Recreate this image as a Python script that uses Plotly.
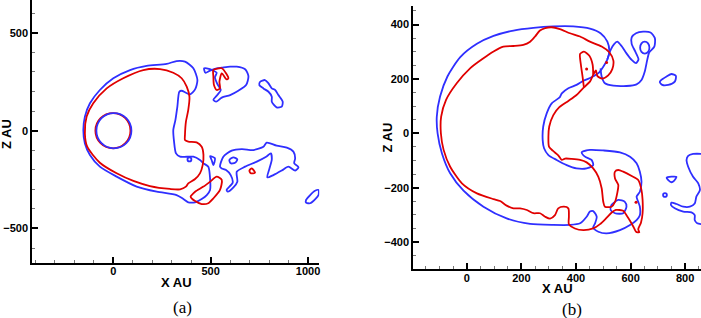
import plotly.graph_objects as go

BLUE = "#2f2fff"
RED = "#e00000"

# ---------------- Panel (a) data (AU) ----------------
A_BLUE_MAIN_X = [329, 339, 351, 373, 394, 420, 432, 411, 368, 325, 274, 171, 86, 0, -69, -120, -146, -154, -146, -120, -69, 17, 120, 223, 325, 360, 385, 420, 454, 480, 497, 497, 488, 463, 445, 411, 343, 322, 312, 308, 319, 329]
A_BLUE_MAIN_Z = [123, 199, 204, 194, 186, 211, 259, 319, 353, 356, 341, 331, 310, 268, 208, 140, 72, 3, -65, -124, -184, -235, -286, -312, -329, -349, -366, -366, -349, -329, -303, -244, -184, -167, -150, -133, -133, -116, -56, 3, 55, 123]

A_RED_MAIN_X = [368, 373, 385, 391, 377, 351, 308, 240, 154, 51, -34, -103, -137, -146, -134, -69, 17, 103, 188, 291, 343, 373, 385, 420, 445, 459, 463, 454, 428, 385, 368, 368]
A_RED_MAIN_Z = [-22, 46, 106, 174, 225, 268, 296, 315, 310, 268, 216, 140, 72, -14, -82, -164, -218, -257, -283, -298, -300, -286, -269, -247, -218, -176, -124, -82, -60, -56, -48, -22]

A_RED_LOOP_X = [403, 420, 463, 497, 531, 557, 548, 514, 488, 454, 420, 397, 403]
A_RED_LOOP_Z = [-329, -312, -286, -261, -235, -252, -303, -346, -371, -375, -360, -337, -329]

A_BLUE_HOOK_X = [497, 522, 514, 505, 497]
A_BLUE_HOOK_Z = [-130, -141, -176, -150, -130]

A_BLUE_CLOUD_X = [548, 565, 608, 660, 719, 771, 788, 839, 891, 925, 934, 929, 951, 934, 899, 865, 822, 791, 802, 814, 809, 785, 737, 677, 634, 637, 617, 588, 582, 613, 603, 579, 557, 548]
A_BLUE_CLOUD_Z = [-184, -133, -102, -94, -99, -82, -61, -77, -87, -107, -141, -167, -187, -204, -184, -204, -227, -239, -193, -147, -116, -133, -158, -184, -210, -261, -290, -312, -303, -266, -227, -201, -193, -184]

A_BLUE_EYE_X = [596, 617, 637, 625, 603, 596]
A_BLUE_EYE_Z = [-150, -136, -147, -164, -167, -150]

A_RED_BIT_X = [699, 711, 728, 706, 699]
A_RED_BIT_Z = [-204, -193, -215, -218, -204]

A_BLUE_TOP_X = [466, 473, 497, 531, 557, 600, 634, 677, 694, 682, 642, 600, 557, 528, 514, 534, 552, 534, 522, 531, 514, 480, 466]
A_BLUE_TOP_Z = [319, 296, 307, 319, 322, 327, 327, 314, 279, 233, 204, 182, 169, 148, 157, 182, 208, 239, 273, 296, 307, 319, 319]

A_RED_TOP_X = [514, 557, 579, 591, 582, 557, 545, 548, 531, 517, 514, 514]
A_RED_TOP_Z = [310, 319, 293, 268, 262, 293, 250, 216, 208, 233, 276, 310]

A_BLUE_FAR_X = [754, 779, 797, 814, 831, 848, 870, 865, 839, 814, 814, 797, 771, 750, 754]
A_BLUE_FAR_Z = [250, 259, 242, 216, 208, 182, 148, 123, 119, 148, 174, 199, 216, 233, 250]

A_BLUE_TAIL_X = [990, 1011, 1036, 1054, 1054, 1036, 1011, 990, 990]
A_BLUE_TAIL_Z = [-354, -329, -307, -303, -329, -351, -371, -368, -354]

# circles: (center x, center z, radius)
A_CIRCLES = [(-2, 0, 90, RED), (3, 0, 90, BLUE), (391, -147, 10, BLUE)]

# ---------------- Panel (b) data (AU) ----------------
B_BLUE_MAIN_X = [522, 515, 490, 451, 390, 317, 244, 171, 98, 37, -24, -71, -98, -110, -107, -91, -61, -12, 61, 146, 232, 317, 378, 415, 439, 451, 463, 476, 470, 463, 482, 512, 561, 598, 622, 634, 634, 628, 622, 634, 640, 634, 622, 598, 561, 500, 451, 421, 433, 457, 463, 439, 402, 366, 329, 299, 283, 278, 280, 293, 311, 341, 348, 372, 402, 427, 457, 482, 500, 515, 522]
B_BLUE_MAIN_Z = [301, 337, 368, 385, 393, 393, 388, 378, 358, 329, 280, 209, 135, 61, 0, -74, -147, -211, -270, -313, -333, -337, -337, -331, -307, -288, -286, -307, -331, -347, -362, -368, -356, -337, -319, -301, -270, -252, -233, -215, -178, -141, -110, -86, -70, -63, -61, -70, -86, -98, -117, -129, -129, -117, -98, -80, -55, -25, 25, 74, 110, 133, 147, 166, 178, 193, 206, 221, 245, 272, 301]

B_BLUE_TAIL_X = [515, 527, 539, 551, 567, 585, 604, 620, 629, 617, 604, 604, 620, 646, 673, 689, 687, 668, 661, 652, 640, 622, 585, 537, 506, 494, 490]
B_BLUE_TAIL_Z = [272, 307, 327, 337, 321, 294, 270, 258, 272, 301, 329, 353, 368, 374, 371, 350, 319, 297, 270, 227, 196, 180, 174, 175, 184, 209, 239]

B_BLUE_BLOB_X = [710, 732, 750, 766, 762, 738, 716, 707, 710]
B_BLUE_BLOB_Z = [194, 209, 218, 211, 190, 178, 178, 188, 194]

B_BLUE_TRI_X = [732, 768, 759, 750, 738, 732]
B_BLUE_TRI_Z = [-163, -160, -175, -180, -172, -163]

B_BLUE_LOOP_X = [530, 555, 579, 585, 573, 543, 527, 530]
B_BLUE_LOOP_Z = [-264, -245, -252, -270, -294, -294, -282, -264]

B_BLUE_RIGHT_X = [870, 829, 811, 805, 811, 829, 848, 854, 841, 835, 817, 793, 768, 750, 748, 762, 793, 823, 835, 835, 844, 870]
B_BLUE_RIGHT_Z = [-76, -76, -83, -98, -123, -160, -184, -209, -233, -258, -270, -270, -260, -255, -264, -276, -288, -291, -301, -319, -331, -335]

B_RED_MAIN_X = [299, 302, 317, 339, 372, 402, 429, 451, 463, 473, 478, 496, 518, 533, 537, 522, 494, 451, 415, 378, 341, 311, 287, 268, 250, 232, 207, 171, 134, 98, 61, 12, -37, -76, -94, -95, -85, -61, -18, 37, 98, 122, 146, 171, 195, 220, 244, 268, 287, 305, 323, 335, 356, 372, 374, 374, 396, 427, 463, 488, 510, 530, 546, 573, 585, 600, 612, 620, 632, 628, 638, 644, 644, 640, 628, 604, 573, 555, 543, 543, 555, 551, 543, 530, 506, 500, 494, 482, 463, 439, 415, 384, 360, 348, 335, 315, 301, 299]
B_RED_MAIN_Z = [-12, 25, 67, 96, 119, 141, 169, 190, 215, 231, 211, 201, 213, 236, 267, 298, 319, 337, 356, 368, 383, 390, 387, 378, 356, 337, 325, 321, 319, 301, 276, 239, 184, 123, 61, 0, -61, -123, -184, -221, -242, -249, -266, -276, -276, -282, -294, -294, -307, -314, -301, -276, -270, -276, -307, -334, -350, -356, -350, -334, -313, -292, -282, -285, -301, -325, -347, -362, -364, -353, -329, -294, -245, -209, -172, -157, -141, -135, -141, -166, -190, -221, -252, -270, -270, -252, -202, -160, -129, -107, -98, -94, -93, -98, -81, -64, -49, -12]

B_RED_FINGER_X = [429, 424, 418, 415, 429, 449, 461, 463]
B_RED_FINGER_Z = [169, 209, 252, 292, 300, 285, 252, 215]

B_RED_DOTS_X = [439, 512, 620]
B_RED_DOTS_Z = [236, 260, -254]

# ellipses: (center x, center z, radius x, radius z)
B_BLUE_ELLIPSES = [(652, 315, 17, 22), (726, -227, 7, 7)]

fig = go.Figure()


def add_line(xs, zs, color, panel, closed=False):
    xa, ya = ("x", "y") if panel == "a" else ("x2", "y2")
    if closed and (xs[0] != xs[-1] or zs[0] != zs[-1]):
        xs = list(xs) + [xs[0]]
        zs = list(zs) + [zs[0]]
    fig.add_trace(go.Scatter(
        x=xs, y=zs, mode="lines",
        line=dict(color=color, width=1.8, shape="spline", smoothing=0.7),
        xaxis=xa, yaxis=ya, hoverinfo="skip", showlegend=False))


add_line(A_BLUE_MAIN_X, A_BLUE_MAIN_Z, BLUE, "a", True)
add_line(A_RED_MAIN_X, A_RED_MAIN_Z, RED, "a", True)
add_line(A_RED_LOOP_X, A_RED_LOOP_Z, RED, "a", True)
add_line(A_BLUE_HOOK_X, A_BLUE_HOOK_Z, BLUE, "a", True)
add_line(A_BLUE_CLOUD_X, A_BLUE_CLOUD_Z, BLUE, "a", True)
add_line(A_BLUE_EYE_X, A_BLUE_EYE_Z, BLUE, "a", True)
add_line(A_RED_BIT_X, A_RED_BIT_Z, RED, "a", True)
add_line(A_BLUE_TOP_X, A_BLUE_TOP_Z, BLUE, "a", True)
add_line(A_RED_TOP_X, A_RED_TOP_Z, RED, "a", True)
add_line(A_BLUE_FAR_X, A_BLUE_FAR_Z, BLUE, "a", True)
add_line(A_BLUE_TAIL_X, A_BLUE_TAIL_Z, BLUE, "a", True)

add_line(B_BLUE_MAIN_X, B_BLUE_MAIN_Z, BLUE, "b", True)
add_line(B_BLUE_TAIL_X, B_BLUE_TAIL_Z, BLUE, "b")
add_line(B_BLUE_BLOB_X, B_BLUE_BLOB_Z, BLUE, "b", True)
add_line(B_BLUE_TRI_X, B_BLUE_TRI_Z, BLUE, "b", True)
add_line(B_BLUE_LOOP_X, B_BLUE_LOOP_Z, BLUE, "b", True)
add_line(B_BLUE_RIGHT_X, B_BLUE_RIGHT_Z, BLUE, "b")
add_line(B_RED_MAIN_X, B_RED_MAIN_Z, RED, "b", True)
add_line(B_RED_FINGER_X, B_RED_FINGER_Z, RED, "b")
fig.add_trace(go.Scatter(x=B_RED_DOTS_X, y=B_RED_DOTS_Z, mode="markers",
                         marker=dict(color=RED, size=3), xaxis="x2", yaxis="y2",
                         hoverinfo="skip", showlegend=False))

shapes = []
for cx, cz, r, col in A_CIRCLES:
    shapes.append(dict(type="circle", xref="x", yref="y", x0=cx - r, x1=cx + r,
                       y0=cz - r, y1=cz + r, line=dict(color=col, width=1.8)))
for cx, cz, rx, rz in B_BLUE_ELLIPSES:
    shapes.append(dict(type="circle", xref="x2", yref="y2", x0=cx - rx, x1=cx + rx,
                       y0=cz - rz, y1=cz + rz, line=dict(color=BLUE, width=1.8)))

TICKFONT = dict(family="Liberation Sans, Arial", size=11, color="black", weight="bold")
TITLEFONT = dict(family="Liberation Sans, Arial", size=13, color="black", weight="bold")


def axis(domain, rng, dtick, minor, anchor, standoff):
    return dict(domain=domain, range=rng, anchor=anchor, dtick=dtick, tick0=0,
                showline=True, linecolor="black", linewidth=2, mirror=False,
                ticks="inside", ticklen=6, tickwidth=1.5, tickcolor="black",
                tickfont=TICKFONT, showgrid=False, zeroline=False,
                ticklabelstandoff=standoff,
                minor=dict(ticks="inside", ticklen=3, tickwidth=1, tickcolor="#777",
                           dtick=minor, tick0=0, showgrid=False),
                fixedrange=True)


fig.update_layout(
    width=701, height=318,
    margin=dict(l=0, r=0, t=0, b=0),
    paper_bgcolor="white", plot_bgcolor="white",
    xaxis=axis([0.0461, 0.4555], [-416, 1058], 500, 100, "y", -4),
    yaxis=axis([0.172, 1.0], [-678, 668], 500, 100, "x", 0),
    xaxis2=axis([0.5896, 1.0], [-196, 858], 200, 50, "y2", -2),
    yaxis2=axis([0.155, 0.981], [-498, 468], 200, 50, "x2", 0),
    shapes=shapes,
    annotations=[
        dict(text="X AU", x=176 / 701, y=1 - 282 / 318, xref="paper", yref="paper",
             showarrow=False, font=TITLEFONT, xanchor="center", yanchor="middle"),
        dict(text="Z AU", x=6 / 701, y=1 - 134 / 318, xref="paper", yref="paper",
             showarrow=False, font=TITLEFONT, textangle=-90, xanchor="center", yanchor="middle"),
        dict(text="X AU", x=557 / 701, y=1 - 288 / 318, xref="paper", yref="paper",
             showarrow=False, font=TITLEFONT, xanchor="center", yanchor="middle"),
        dict(text="Z AU", x=386.5 / 701, y=1 - 138 / 318, xref="paper", yref="paper",
             showarrow=False, font=TITLEFONT, textangle=-90, xanchor="center", yanchor="middle"),
        dict(text="(a)", x=183 / 701, y=1 - 307 / 318, xref="paper", yref="paper",
             showarrow=False, font=dict(family="Liberation Serif, Times New Roman", size=17, color="black"),
             xanchor="center", yanchor="middle"),
        dict(text="(b)", x=572 / 701, y=1 - 309 / 318, xref="paper", yref="paper",
             showarrow=False, font=dict(family="Liberation Serif, Times New Roman", size=17, color="black"),
             xanchor="center", yanchor="middle"),
    ],
)

fig.write_html("out.html", config={"displayModeBar": False},
               post_script="document.body.style.margin='0';document.body.style.overflow='hidden';")
